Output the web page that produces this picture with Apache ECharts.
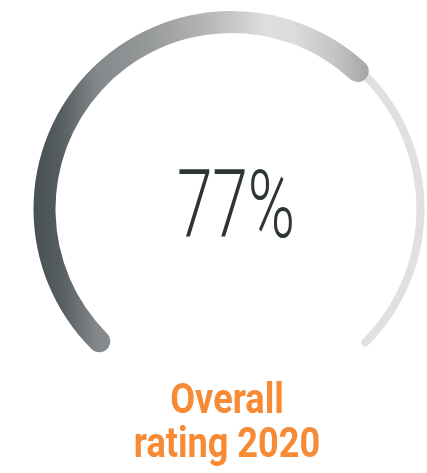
<!DOCTYPE html>
<html>
<head>
<meta charset="utf-8">
<script src="https://cdn.jsdelivr.net/npm/echarts@6/dist/echarts.min.js"></script>
<style>
  html, body { margin: 0; padding: 0; background: #ffffff; }
  #chart { width: 427px; height: 473px; }
</style>
</head>
<body>
<div id="chart"></div>
<script>
// Rating shown on the gauge (percent)
const ratingValue = 77;
const scaleMin = 0;
const scaleMax = 100;
const captionLines = ['Overall', 'rating 2020'];

const chart = echarts.init(document.getElementById('chart'), null, { renderer: 'canvas' });

const gaugeCenter = [231.5, 209];

// Horizontal grey shading of the progress band
const progressGradient = new echarts.graphic.LinearGradient(0, 0, 1, 0, [
  { offset: 0.0, color: '#475053' },
  { offset: 0.08, color: '#565d60' },
  { offset: 0.19, color: '#84888a' },
  { offset: 0.34, color: '#96999a' },
  { offset: 0.49, color: '#b0b1b2' },
  { offset: 0.6, color: '#c8c8c8' },
  { offset: 0.69, color: '#dededc' },
  { offset: 0.78, color: '#dbdbda' },
  { offset: 0.9, color: '#c4c4c4' },
  { offset: 1.0, color: '#a4a5a6' }
]);

const hidden = { show: false };

// Condensed caption lines, one text element per line
const captionBottoms = [424, 468];
const captionGraphics = captionLines.map((line, i) => ({
  type: 'text',
  x: 227,
  y: captionBottoms[i],
  scaleX: 0.84,
  style: {
    text: line,
    fontFamily: 'Roboto',
    fontWeight: 'bold',
    fontSize: 43,
    fill: '#f68a35',
    align: 'center',
    verticalAlign: 'bottom'
  }
}));

const option = {
  animation: false,
  backgroundColor: '#ffffff',
  graphic: [
    {
      type: 'text',
      x: 236,
      y: 213,
      scaleX: 0.68,
      style: {
        text: ratingValue + '%',
        fontFamily: 'Roboto',
        fontWeight: 300,
        fontSize: 94,
        fill: '#2d3634',
        align: 'center',
        verticalAlign: 'middle'
      }
    }
  ].concat(captionGraphics),
  series: [
    {
      // background track
      type: 'gauge',
      center: gaugeCenter,
      radius: 193,
      startAngle: 225,
      endAngle: -45,
      min: scaleMin,
      max: scaleMax,
      axisLine: {
        show: true,
        roundCap: true,
        lineStyle: { width: 8, color: [[1, '#e0e0e0']] }
      },
      progress: hidden,
      pointer: hidden,
      anchor: hidden,
      axisTick: hidden,
      splitLine: hidden,
      axisLabel: hidden,
      title: hidden,
      detail: hidden,
      data: [{ value: scaleMin }]
    },
    {
      // rating band
      type: 'gauge',
      center: gaugeCenter,
      radius: 198,
      startAngle: 225,
      endAngle: -5.5,
      min: scaleMin,
      max: scaleMax,
      axisLine: hidden,
      progress: {
        show: true,
        width: 22,
        roundCap: true,
        itemStyle: { color: progressGradient }
      },
      pointer: hidden,
      anchor: hidden,
      axisTick: hidden,
      splitLine: hidden,
      axisLabel: hidden,
      title: hidden,
      detail: hidden,
      data: [{ value: ratingValue }]
    }
  ]
};

chart.setOption(option);
</script>
</body>
</html>
